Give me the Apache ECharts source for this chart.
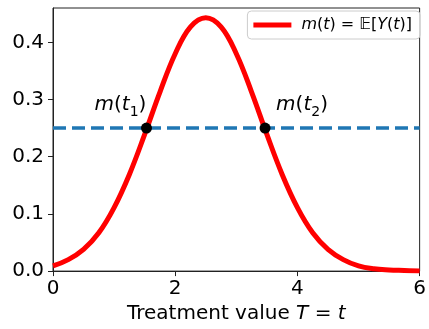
<!DOCTYPE html>
<html>
<head>
<meta charset="utf-8">
<script src="https://cdn.jsdelivr.net/npm/echarts@6/dist/echarts.min.js"></script>
<style>
  html, body { margin: 0; padding: 0; background: #fff; }
  #chart { width: 429px; height: 329px; }
</style>
</head>
<body>
<div id="chart"></div>
<script>
// Treatment values and the mean outcome curve m(t)
const tValues = [0, 0.25, 0.5, 0.75, 1, 1.25, 1.5, 1.75, 2, 2.25, 2.5, 2.75, 3, 3.25, 3.5, 3.75, 4, 4.25, 4.5, 4.75, 5, 5.25, 5.5, 5.75, 6];
const mValues = [0.009, 0.020, 0.038, 0.067, 0.111, 0.169, 0.239, 0.313, 0.380, 0.427, 0.443, 0.427, 0.380, 0.313, 0.239, 0.169, 0.111, 0.067, 0.038, 0.020, 0.009, 0.004, 0.002, 0.001, 0.000];

// Horizontal reference level and where the curve crosses it
const refLevel = 0.25;
const crossT = [1.53, 3.47];
const crossSub = ['1', '2'];

// Axis ticks
const xTicks = [0, 2, 4, 6];
const yTicks = [0, 0.1, 0.2, 0.3, 0.4];

const FONT = 'DejaVu Sans';
const curveName = 'm(t) = 𝔼[Y(t)]';

const chart = echarts.init(document.getElementById('chart'), null, { renderer: 'canvas' });

const crossOffsets = [[-26, -23], [37, -23]];

chart.setOption({
  animation: false,
  grid: {
    left: 53, top: 8, right: 7, bottom: 55,
    show: true, borderColor: '#222', borderWidth: 1, backgroundColor: 'transparent'
  },
  legend: {
    data: [curveName],
    top: 11, right: 9,
    orient: 'vertical',
    icon: 'rect',
    itemWidth: 38, itemHeight: 5,
    padding: [6, 8, 6, 6],
    backgroundColor: 'rgba(255,255,255,0.8)',
    borderColor: '#cccccc', borderWidth: 1, borderRadius: 4,
    formatter: () => '{i|m}{n|(}{i|t}{n|) = 𝔼[}{i|Y}{n|(}{i|t}{n|)]}',
    textStyle: {
      padding: [0, 0, 0, 5],
      rich: {
        i: { fontFamily: FONT, fontSize: 16, fontStyle: 'italic', color: '#000' },
        n: { fontFamily: FONT, fontSize: 16, color: '#000' }
      }
    }
  },
  xAxis: {
    type: 'value', min: 0, max: 6, interval: 2,
    name: '{n|Treatment value }{i|T}{n| = }{i|t}',
    nameLocation: 'middle', nameGap: 30,
    nameTextStyle: {
      rich: {
        n: { fontFamily: FONT, fontSize: 20, color: '#000' },
        i: { fontFamily: FONT, fontSize: 20, fontStyle: 'italic', color: '#000' }
      }
    },
    axisLine: { show: true, onZero: false, lineStyle: { color: '#222', width: 1 } },
    axisTick: { show: true, inside: false, length: 5, lineStyle: { color: '#222', width: 1 }, customValues: xTicks },
    axisLabel: { fontFamily: FONT, fontSize: 20, color: '#000', margin: 8, customValues: xTicks },
    splitLine: { show: false }
  },
  yAxis: {
    type: 'value', min: 0, max: 0.46,
    axisLine: { show: true, onZero: false, lineStyle: { color: '#222', width: 1 } },
    axisTick: { show: true, inside: false, length: 5, lineStyle: { color: '#222', width: 1 }, customValues: yTicks },
    axisLabel: {
      fontFamily: FONT, fontSize: 20, color: '#000', margin: 9,
      customValues: yTicks,
      formatter: v => v.toFixed(1)
    },
    splitLine: { show: false }
  },
  series: [
    {
      name: curveName,
      type: 'line',
      data: tValues.map((t, i) => [t, mValues[i]]),
      showSymbol: false,
      smooth: 0.4,
      lineStyle: { color: '#ff0000', width: 5 },
      itemStyle: { color: '#ff0000' },
      z: 2
    },
    {
      name: 'reference',
      type: 'line',
      data: [[0, refLevel], [6, refLevel]],
      showSymbol: false,
      lineStyle: { color: '#1f77b4', width: 3.5, type: [13, 6] },
      z: 3
    },
    {
      name: 'crossings',
      type: 'scatter',
      symbolSize: 11,
      itemStyle: { color: '#000', opacity: 1 },
      emphasis: { disabled: true },
      z: 5,
      data: crossT.map((t, i) => ({
        value: [t, refLevel],
        label: {
          show: true,
          position: 'inside',
          offset: crossOffsets[i],
          formatter: '{i|m}{n|(}{i|t}{s|' + crossSub[i] + '}{n|)}',
          rich: {
            i: { fontFamily: FONT, fontSize: 20, fontStyle: 'italic', color: '#000', lineHeight: 28 },
            n: { fontFamily: FONT, fontSize: 20, color: '#000', lineHeight: 28 },
            s: { fontFamily: FONT, fontSize: 14, color: '#000', lineHeight: 16, verticalAlign: 'bottom' }
          }
        }
      }))
    }
  ]
});
</script>
</body>
</html>
